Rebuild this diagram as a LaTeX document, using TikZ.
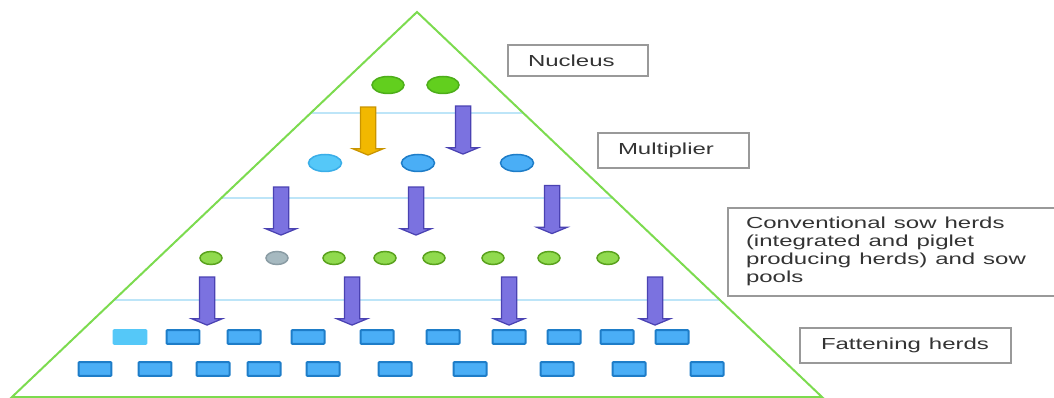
\documentclass[tikz,border=0pt]{standalone}
\usepackage{fontspec}
\setmainfont{Liberation Sans}
\usepackage{graphicx}
\usetikzlibrary{shapes,arrows}

\definecolor{pyrgreen}{HTML}{7CDB4F}
\definecolor{sepblue}{HTML}{BDE5F8}
\definecolor{nucfill}{HTML}{62CF1E}
\definecolor{nucline}{HTML}{4DAE1A}
\definecolor{lightfill}{HTML}{55C8F8}
\definecolor{lightline}{HTML}{3AAEE8}
\definecolor{herdfill}{HTML}{4AAEF6}
\definecolor{herdline}{HTML}{1E7DC8}
\definecolor{sowfill}{HTML}{90DA4E}
\definecolor{sowline}{HTML}{5AA21E}
\definecolor{grayfill}{HTML}{A6B9C0}
\definecolor{grayline}{HTML}{8A9CA4}
\definecolor{flowfill}{HTML}{7B72E0}
\definecolor{flowline}{HTML}{4A42B2}
\definecolor{goldfill}{HTML}{F2B800}
\definecolor{goldline}{HTML}{C99400}
\definecolor{tagline}{HTML}{999999}
\definecolor{tagtext}{HTML}{333333}

\newcommand{\wlabel}[1]{\scalebox{1.5}[1]{#1}}

\begin{document}
\begin{tikzpicture}[
    x=0.02cm,
    y=-0.02cm,
    thick
]

% =========================
% Styles
% =========================
\tikzstyle{pyramid} = [draw=pyrgreen, line width=0.04cm]

\tikzstyle{layer} = [draw=sepblue, line width=0.04cm]

\tikzstyle{nucleus} = [
    ellipse, draw=nucline, fill=nucfill,
    line width=0.03cm,
    minimum width=0.64cm,
    minimum height=0.34cm,
    inner sep=0pt
]

\tikzstyle{multiplier} = [
    ellipse, draw=herdline, fill=herdfill,
    line width=0.03cm,
    minimum width=0.66cm,
    minimum height=0.34cm,
    inner sep=0pt
]

\tikzstyle{sow} = [
    ellipse, draw=sowline, fill=sowfill,
    line width=0.03cm,
    minimum width=0.44cm,
    minimum height=0.26cm,
    inner sep=0pt
]

\tikzstyle{herd} = [
    rectangle, draw=herdline, fill=herdfill,
    line width=0.04cm,
    rounded corners=0.02cm,
    minimum width=0.66cm,
    minimum height=0.28cm,
    inner sep=0pt
]

\tikzstyle{flow} = [
    single arrow, draw=flowline, fill=flowfill,
    line width=0.025cm,
    shape border rotate=270,
    minimum height=0.96cm,
    inner sep=0.14cm,
    single arrow head extend=0.15cm,
    single arrow tip angle=135
]

\tikzstyle{tag} = [
    rectangle, draw=tagline,
    line width=0.04cm,
    anchor=north west,
    align=left,
    text=tagtext,
    font=\fontsize{9.1pt}{10.2pt}\selectfont
]

% =========================
% Frame
% =========================
\useasboundingbox (0,0) rectangle (1054,398);

\coordinate (apex) at (417,12);
\coordinate (baseR) at (822,397);
\coordinate (baseL) at (12,397);

% separators between the tiers
\draw[layer] (311,113) -- (523,113);
\draw[layer] (221,198) -- (613,198);
\draw[layer] (114,300) -- (720,300);

\draw[pyramid] (apex) -- (baseR) -- (baseL) -- cycle;

% =========================
% Tiers
% =========================
\node[nucleus] (nuc1) at (388,85) {};
\node[nucleus] (nuc2) at (443,85) {};

\node[multiplier, fill=lightfill, draw=lightline] (mul1) at (325,163) {};
\node[multiplier] (mul2) at (418,163) {};
\node[multiplier] (mul3) at (517,163) {};

\node[sow] (sow1) at (211,258) {};
\node[sow, fill=grayfill, draw=grayline] (sow2) at (277,258) {};
\node[sow] (sow3) at (334,258) {};
\node[sow] (sow4) at (385,258) {};
\node[sow] (sow5) at (434,258) {};
\node[sow] (sow6) at (493,258) {};
\node[sow] (sow7) at (549,258) {};
\node[sow] (sow8) at (608,258) {};

\node[herd, fill=lightfill, draw=lightfill] (top1) at (130,337) {};
\node[herd] (top2) at (183,337) {};
\node[herd] (top3) at (244,337) {};
\node[herd] (top4) at (308,337) {};
\node[herd] (top5) at (377,337) {};
\node[herd] (top6) at (443,337) {};
\node[herd] (top7) at (509,337) {};
\node[herd] (top8) at (564,337) {};
\node[herd] (top9) at (617,337) {};
\node[herd] (top10) at (672,337) {};

\node[herd] (bot1) at (95,369) {};
\node[herd] (bot2) at (155,369) {};
\node[herd] (bot3) at (213,369) {};
\node[herd] (bot4) at (264,369) {};
\node[herd] (bot5) at (323,369) {};
\node[herd] (bot6) at (395,369) {};
\node[herd] (bot7) at (470,369) {};
\node[herd] (bot8) at (557,369) {};
\node[herd] (bot9) at (629,369) {};
\node[herd] (bot10) at (707,369) {};

% =========================
% Flow arrows
% =========================
\node[flow, fill=goldfill, draw=goldline] (goldflow) at (368,129.5) {};
\node[flow] (flow1) at (463,128.5) {};

\node[flow] (flow2) at (281,209.5) {};
\node[flow] (flow3) at (416,209.5) {};
\node[flow] (flow4) at (552,208) {};

\node[flow] (flow5) at (207,299.5) {};
\node[flow] (flow6) at (352,299.5) {};
\node[flow] (flow7) at (509,299.5) {};
\node[flow] (flow8) at (655,299.5) {};

% =========================
% Labels
% =========================
\node[tag, minimum height=0.62cm, inner xsep=0.4cm, text width=2.0cm]
    (lblnucleus) at (507,44) {\wlabel{Nucleus}};

\node[tag, minimum height=0.7cm, inner xsep=0.4cm, text width=2.22cm]
    (lblmultiplier) at (597,132) {\wlabel{Multiplier}};

\node[tag, minimum height=1.76cm, inner xsep=0.36cm, text width=6.0cm]
    (lblsow) at (727,207)
    {\wlabel{\begin{tabular}{@{}l@{}}Conventional sow herds\\(integrated and piglet\\producing herds) and sow\\pools\end{tabular}}};

\node[tag, minimum height=0.7cm, inner xsep=0.42cm, text width=3.38cm]
    (lblfattening) at (799,327) {\wlabel{Fattening herds}};

\end{tikzpicture}
\end{document}
